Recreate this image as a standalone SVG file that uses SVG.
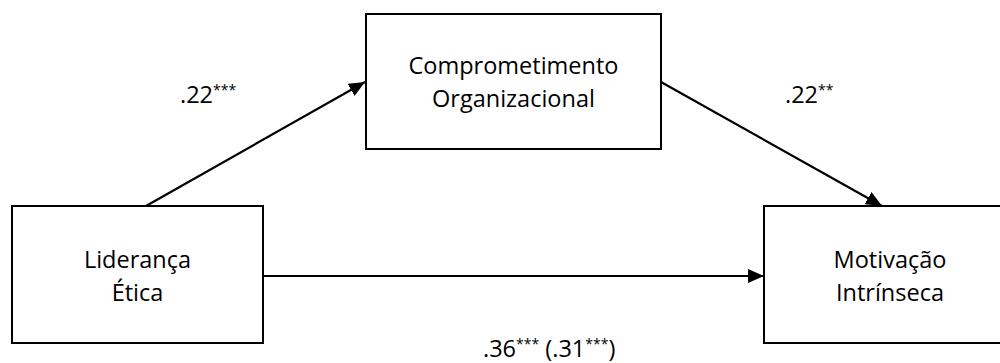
<svg xmlns="http://www.w3.org/2000/svg" width="1000" height="363" viewBox="0 0 1000 363">
<style>
.box{fill:#fff;stroke:#000;stroke-width:2}
.t{font-family:"Open Sans","Liberation Sans",sans-serif;font-size:23.5px;fill:#000}
.c{text-anchor:middle}
.sup{font-size:14px}
.conn line{stroke:#000;stroke-width:2.2}
</style>
<defs>
<marker id="ah" markerUnits="userSpaceOnUse" markerWidth="16" markerHeight="14" viewBox="0 0 16 14" refX="16" refY="7" orient="auto">
<path d="M0,0 L16,7 L0,14 z" fill="#000"/>
</marker>
</defs>
<g id="node-lideranca">
<rect class="box" x="12" y="206" width="251" height="137"/>
<text class="t c" x="137.5" y="268">Liderança</text>
<text class="t c" x="137.5" y="301">Ética</text>
</g>
<g id="node-comprometimento">
<rect class="box" x="366" y="14" width="295" height="135"/>
<text class="t c" x="513.5" y="74">Comprometimento</text>
<text class="t c" x="513.5" y="107">Organizacional</text>
</g>
<g id="node-motivacao">
<rect class="box" x="764" y="206" width="252" height="137"/>
<text class="t c" x="890" y="268">Motivação</text>
<text class="t c" x="890" y="301">Intrínseca</text>
</g>
<g id="connectors" class="conn">
<line x1="146" y1="206" x2="365" y2="82" marker-end="url(#ah)"/>
<line x1="661" y1="82" x2="882" y2="206" marker-end="url(#ah)"/>
<line x1="263" y1="276" x2="764" y2="276" marker-end="url(#ah)"/>
</g>
<g id="labels">
<text class="t" x="180" y="103">.22<tspan class="sup" dy="-8">***</tspan></text>
<text class="t" x="785" y="103">.22<tspan class="sup" dy="-8">**</tspan></text>
<text class="t" x="483" y="357">.36<tspan class="sup" dy="-8">***</tspan><tspan dy="8"> (.31</tspan><tspan class="sup" dy="-8">***</tspan><tspan dy="8">)</tspan></text>
</g>
</svg>
